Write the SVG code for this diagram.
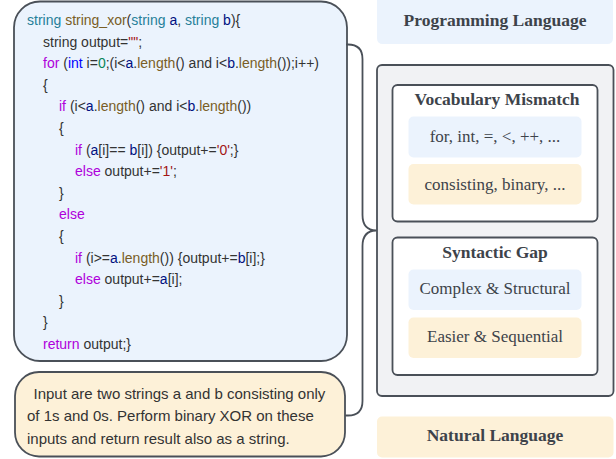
<svg xmlns="http://www.w3.org/2000/svg" width="616" height="459" viewBox="0 0 616 459">
<style>
.edge{fill:none;stroke:#4a5058;stroke-width:1.8;stroke-linecap:round;stroke-linejoin:round}
.box{stroke:#4a5058;stroke-width:1.8}
.blue{fill:#ebf3fd}
.yel{fill:#fdf1d8}
.code{font-family:"Liberation Sans",Arial,sans-serif;font-size:14px;fill:#333}
.nl{font-family:"Liberation Sans",Arial,sans-serif;font-size:15px;fill:#333}
.ser{font-family:"Liberation Serif","Times New Roman",serif;font-size:17px;fill:#3d434a;text-anchor:middle;dominant-baseline:central}
.hd{font-weight:bold;font-size:17.5px}
.kc{fill:#af00db}.ty{fill:#267f99}.fn{fill:#795e26}.va{fill:#001080}.kw{fill:#0000ff}.nu{fill:#098658}.st{fill:#a31515}
</style>
<g id="code">
<rect class="box blue" x="14" y="1.5" width="333" height="359.5" rx="26"/>
<text class="code" xml:space="preserve"><tspan x="27" y="25"><tspan class="ty">string</tspan> <tspan class="fn">string_xor</tspan>(<tspan class="ty">string</tspan> <tspan class="va">a</tspan>, <tspan class="ty">string</tspan> <tspan class="va">b</tspan>){</tspan><tspan x="43" y="46.6">string output=<tspan class="st">""</tspan>;</tspan><tspan x="43" y="68.2"><tspan class="kc">for</tspan> (<tspan class="kw">int</tspan> i=<tspan class="nu">0</tspan>;(i&lt;<tspan class="va">a</tspan>.<tspan class="fn">length</tspan>() and i&lt;<tspan class="va">b</tspan>.<tspan class="fn">length</tspan>());i++)</tspan><tspan x="43" y="89.8">{</tspan><tspan x="59" y="111.4"><tspan class="kc">if</tspan> (i&lt;<tspan class="va">a</tspan>.<tspan class="fn">length</tspan>() and i&lt;<tspan class="va">b</tspan>.<tspan class="fn">length</tspan>())</tspan><tspan x="59" y="133">{</tspan><tspan x="75" y="154.6"><tspan class="kc">if</tspan> (<tspan class="va">a</tspan>[i]== <tspan class="va">b</tspan>[i]) {output+=<tspan class="st">'0'</tspan>;}</tspan><tspan x="75" y="176.2"><tspan class="kc">else</tspan> output+=<tspan class="st">'1'</tspan>;</tspan><tspan x="59" y="197.8">}</tspan><tspan x="59" y="219.4" class="kc">else</tspan><tspan x="59" y="241">{</tspan><tspan x="75" y="262.6"><tspan class="kc">if</tspan> (i&gt;=<tspan class="va">a</tspan>.<tspan class="fn">length</tspan>()) {output+=<tspan class="va">b</tspan>[i];}</tspan><tspan x="75" y="284.2"><tspan class="kc">else</tspan> output+=<tspan class="va">a</tspan>[i];</tspan><tspan x="59" y="305.8">}</tspan><tspan x="43" y="327.4">}</tspan><tspan x="43" y="349"><tspan class="kc">return</tspan> output;}</tspan></text>
</g>
<g id="nl-desc">
<rect class="box yel" x="15" y="372" width="330" height="84.5" rx="24"/>
<text class="nl"><tspan x="33.5" y="398.5">Input are two strings a and b consisting only</tspan><tspan x="27" y="421">of 1s and 0s. Perform binary XOR on these</tspan><tspan x="27" y="443.5">inputs and return result also as a string.</tspan></text>
</g>
<g id="connectors">
<path class="edge" d="M347,44.5 H348 Q362.5,44.5 362.5,59 V215 Q362.5,230 376,230.5 Q362.5,231 362.5,246 V401 Q362.5,415.5 348,415.5 H346"/>
</g>
<g id="programming-language">
<path class="blue" d="M377,0 H613 V38 Q613,44 607,44 H383 Q377,44 377,38 Z"/>
<text class="ser hd" x="495" y="20">Programming Language</text>
</g>
<g id="gap-panel">
<rect class="box" fill="#f1f2f4" x="377" y="65" width="236.5" height="331" rx="5"/>
</g>
<g id="vocab">
<rect class="box" fill="#ffffff" x="392.5" y="85" width="205" height="136.5" rx="5"/>
<text class="ser hd" x="497" y="99">Vocabulary Mismatch</text>
<rect class="blue" x="408.5" y="116.5" width="173" height="41" rx="5"/>
<text class="ser" x="495" y="136.5">for, int, =, &lt;, ++, ...</text>
<rect class="yel" x="408.5" y="164" width="173" height="40.5" rx="5"/>
<text class="ser" x="495" y="184">consisting, binary, ...</text>
</g>
<g id="syntax">
<rect class="box" fill="#ffffff" x="392.5" y="237.5" width="205" height="137.5" rx="5"/>
<text class="ser hd" x="495" y="252">Syntactic Gap</text>
<rect class="blue" x="408.5" y="269.5" width="173" height="40.5" rx="5"/>
<text class="ser" x="495" y="288.5">Complex &amp; Structural</text>
<rect class="yel" x="408.5" y="317.5" width="173" height="40.5" rx="5"/>
<text class="ser" x="495" y="336">Easier &amp; Sequential</text>
</g>
<g id="natural-language">
<rect class="yel" x="377" y="416.5" width="236.5" height="41" rx="5"/>
<text class="ser hd" x="495" y="435">Natural Language</text>
</g>
</svg>
